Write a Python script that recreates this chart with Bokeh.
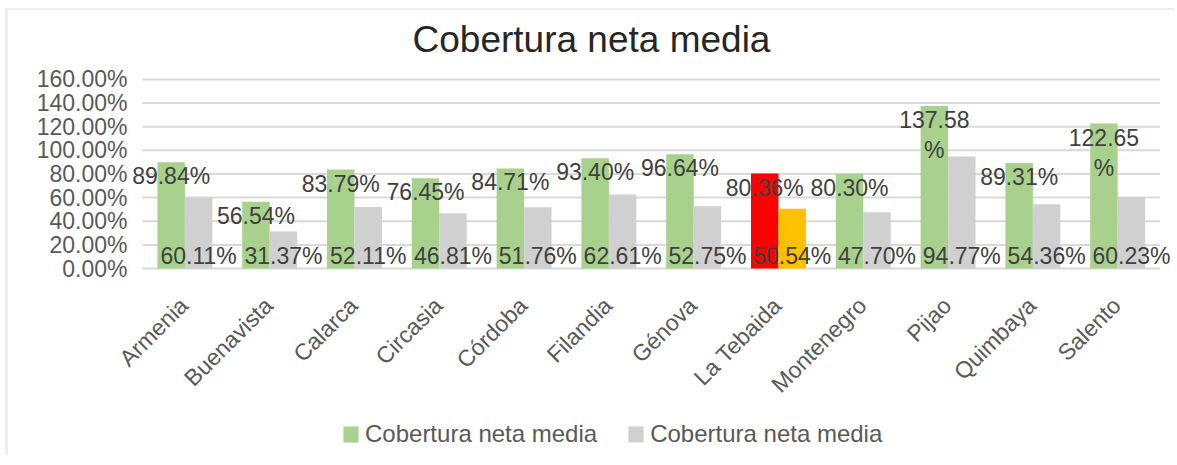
from bokeh.plotting import figure
from bokeh.models import (ColumnDataSource, Range1d, Legend, LegendItem, Title)
from bokeh.transform import dodge
from bokeh.core.properties import value
from bokeh.embed import file_html
from bokeh.resources import INLINE

municipios = ["Armenia", "Buenavista", "Calarca", "Circasia", "Córdoba", "Filandia",
              "Génova", "La Tebaida", "Montenegro", "Pijao", "Quimbaya", "Salento"]
serie1 = [89.84, 56.54, 83.79, 76.45, 84.71, 93.40, 96.64, 80.36, 80.30, 137.58, 89.31, 122.65]
serie2 = [60.11, 31.37, 52.11, 46.81, 51.76, 62.61, 52.75, 50.54, 47.70, 94.77, 54.36, 60.23]
serie_name = "Cobertura neta media"
y_ticks = [0, 20, 40, 60, 80, 100, 120, 140, 160]

GREEN = "#A9D18E"
GREY = "#D0D0D0"
RED = "#FF0000"
GOLD = "#FFC000"
TXT = "#595959"
GRID = "#D9D9D9"
FONT = "Liberation Sans"
highlight = "La Tebaida"


def fmt(v):
    s = f"{v:.2f}%"
    return s[:-1] + "\n%" if v >= 100 else s


n = len(municipios)
pos = [i + 0.5 for i in range(n)]          # category slot centres
c1 = [RED if m == highlight else GREEN for m in municipios]
c2 = [GOLD if m == highlight else GREY for m in municipios]

src = ColumnDataSource(dict(x=pos, name=municipios, s1=serie1, s2=serie2, c1=c1, c2=c2,
                            l1=[fmt(v) for v in serie1], l2=[fmt(v) for v in serie2],
                            zero=[0] * n))
tick_src = ColumnDataSource(dict(y=y_ticks, x0=[0] * len(y_ticks), x1=[n] * len(y_ticks),
                                 lab=[f"{t:.2f}%" for t in y_ticks]))

# the frame covers the whole card so that category labels and legend can be drawn inside it
p = figure(x_range=Range1d(-1.580, n + 0.170), y_range=Range1d(-158.3, 171.0),
           frame_width=1166, frame_height=389, output_backend="svg", toolbar_location=None,
           min_border_left=0, min_border_right=0, min_border_top=56, min_border_bottom=0)

p.add_layout(Title(text=serie_name, align="center", text_font=FONT, text_font_size="37px",
                   text_font_style="normal", text_color="#262626", standoff=13), "above")

# horizontal gridlines over the category area
p.segment(x0="x0", x1="x1", y0="y", y1="y", source=tick_src, line_color=GRID, line_width=2)
# value-axis labels
p.text(x="x0", y="y", text="lab", source=tick_src, x_offset=-15,
       text_align="right", text_baseline="middle",
       text_font=value(FONT), text_font_size="23px", text_color=TXT)

W = 0.324
r1 = p.vbar(x=dodge("x", -W / 2), top="s1", width=W, source=src,
            fill_color="c1", line_color=None)
r2 = p.vbar(x=dodge("x", W / 2), top="s2", width=W, source=src,
            fill_color="c2", line_color=None)

p.text(x=dodge("x", -W / 2), y="s1", text="l1", source=src,
       text_align="center", text_baseline="top", y_offset=1,
       text_font=value(FONT), text_font_size="23px", text_color="#404040",
       text_line_height=1.15)
p.text(x=dodge("x", W / 2), y="zero", text="l2", source=src,
       text_align="center", text_baseline="bottom", y_offset=0,
       text_font=value(FONT), text_font_size="23px", text_color="#404040")

# rotated category labels
p.text(x="x", y="zero", text="name", source=src, angle=0.785,
       x_offset=-1, y_offset=33, text_align="right", text_baseline="middle",
       text_font=value(FONT), text_font_size="23px", text_color=TXT)

p.xaxis.visible = False
p.yaxis.visible = False
p.xgrid.grid_line_color = None
p.ygrid.grid_line_color = None
p.outline_line_color = None

legend = Legend(items=[LegendItem(label=serie_name, renderers=[r1], index=0),
                       LegendItem(label=serie_name, renderers=[r2], index=0)],
                orientation="horizontal", location=(333, 7),
                label_text_font=FONT, label_text_font_size="24px", label_text_color=TXT,
                glyph_width=19, glyph_height=20, spacing=29, label_standoff=5,
                border_line_color=None, background_fill_alpha=0, margin=0, padding=0,
                label_height=20)
p.add_layout(legend, "center")

p.styles = {"margin-left": "5px", "margin-top": "8px",
            "border-top": "2px solid #EEEEEE", "border-left": "3px solid #EEEEEE"}

open("out.html", "w").write(file_html(p, INLINE))
